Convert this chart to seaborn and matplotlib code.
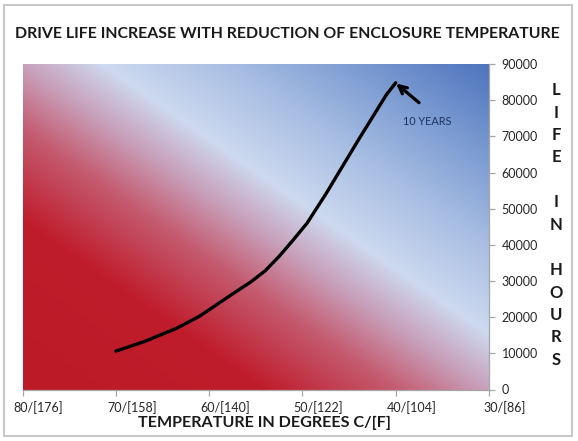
import numpy as np
import pandas as pd
import matplotlib
matplotlib.use("Agg")
import matplotlib.pyplot as plt
from matplotlib.colors import LinearSegmentedColormap
from matplotlib.patches import Rectangle
from matplotlib.transforms import ScaledTranslation
import seaborn as sns

# ---- data ----
temp_c = [70, 67, 63.5, 61, 57.5, 55.5, 54, 52.5, 51, 49.5, 47.5, 44, 41, 40]
life_hours = [10600, 13200, 16900, 20300, 26400, 29800, 32800, 36800, 41300, 46000,
              54000, 69000, 81500, 84800]
x_ticks = [80, 70, 60, 50, 40, 30]
x_tick_labels = ["80/[176]", "70/[158]", "60/[140]", "50/[122]", "40/[104]", "30/[86]"]
y_ticks = [0, 10000, 20000, 30000, 40000, 50000, 60000, 70000, 80000, 90000]
title = "DRIVE LIFE INCREASE WITH REDUCTION OF ENCLOSURE TEMPERATURE"
x_label = "TEMPERATURE IN DEGREES C/[F]"
y_label = "LIFE IN HOURS"
note_text = "10 YEARS"

sns.set_theme(style="white")
plt.rcParams["font.family"] = ["Lato", "DejaVu Sans"]

fig = plt.figure(figsize=(5.78, 4.41), dpi=100)
ax = fig.add_axes([22.5 / 578, 1 - 389.5 / 441, (489 - 22.5) / 578, (389.5 - 64) / 441])

# background gradient (bottom-left red -> light band -> top-right blue)
cmap = LinearSegmentedColormap.from_list("bg", [
    (0.00, "#bd1a27"),
    (0.26, "#c01d2c"),
    (0.40, "#c45b70"),
    (0.50, "#c8a2bc"),
    (0.585, "#cdd9ef"),
    (0.72, "#a8bee3"),
    (0.86, "#7a9ad1"),
    (1.00, "#4e74bd"),
])
n = 300
u = np.linspace(0, 1, n)[None, :]
v = np.linspace(1, 0, n)[:, None]
t = 0.5 * u + 0.5 * v
ax.imshow(cmap(t), extent=(80, 30, 0, 90000), aspect="auto", zorder=0,
          interpolation="bilinear")

df = pd.DataFrame({"temp": temp_c, "life": life_hours})
sns.lineplot(data=df, x="temp", y="life", ax=ax, color="black", lw=2.4,
             zorder=3, solid_capstyle="round", solid_joinstyle="round")

ax.set_xlim(80, 30)
ax.set_ylim(0, 90000)
ax.set_xticks(x_ticks)
ax.set_xticklabels(x_tick_labels)
ax.set_yticks(y_ticks)
ax.set_yticklabels([str(v) for v in y_ticks])
ax.yaxis.tick_right()
ax.set_xlabel("")
ax.set_ylabel("")
ax.grid(False)
for s in ["left", "top"]:
    ax.spines[s].set_visible(False)
for s in ["right", "bottom"]:
    ax.spines[s].set_visible(True)
    ax.spines[s].set_color("#a6a6a6")
    ax.spines[s].set_linewidth(0.9)
ax.tick_params(axis="x", direction="out", length=4, width=0.9, color="#a6a6a6",
               labelsize=9, labelcolor="#262626", pad=4.5, bottom=True)
ax.tick_params(axis="y", direction="out", length=4, width=0.9, color="#a6a6a6",
               labelsize=9, labelcolor="#262626", pad=5, right=True, left=False)
shift = ScaledTranslation(16 / 100, 0, fig.dpi_scale_trans)
for lab in ax.get_xticklabels():
    lab.set_transform(lab.get_transform() + shift)

# annotation
ax.annotate("", xy=(39.95, 84600), xytext=(37.5, 79300),
            arrowprops=dict(arrowstyle="->", color="black", lw=2.3,
                            mutation_scale=14, shrinkA=0, shrinkB=0), zorder=4)
ax.text(36.65, 74100, note_text, ha="center", va="center", fontsize=7.8,
        color="#1c3360", zorder=4)

fig.text(287 / 578, 1 - 34 / 441, title, ha="center", va="center",
         fontsize=11.4, fontweight="bold", color="#1a1a1a")
fig.text(264 / 578, 1 - 423 / 441, x_label, ha="center", va="center",
         fontsize=11.6, fontweight="bold", color="#1a1a1a")
for i, ch in enumerate(y_label):
    if ch.strip():
        fig.text(556 / 578, 1 - (90 + 22.5 * i) / 441, ch, ha="center", va="center",
                 fontsize=12, fontweight="bold", color="#1a1a1a")

fig.patches.append(Rectangle((4 / 578, 1 - 436 / 441), 568 / 578, 431 / 441,
                             transform=fig.transFigure, fill=False,
                             edgecolor="#c8c8c8", lw=1.5))

fig.savefig("out.png", dpi=100)
